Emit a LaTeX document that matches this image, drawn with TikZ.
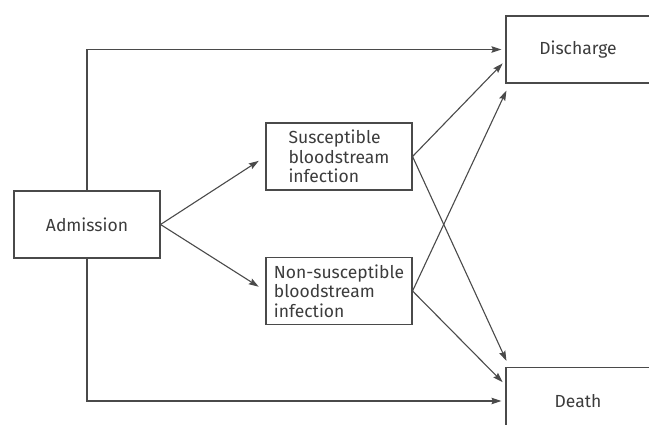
\documentclass[tikz,border=0pt]{standalone}
\usepackage{fontspec}
\setmainfont{Fira Sans}
\usetikzlibrary{arrows.meta}
\definecolor{linegray}{HTML}{4A4A4A}
\definecolor{textgray}{HTML}{3C3C3C}
\begin{document}
\begin{tikzpicture}[x=1pt, y=-1pt, line width=1.1pt, draw=linegray,
  font=\fontsize{17.5}{19.5}\selectfont, text=textgray,
  box/.style={draw=linegray, minimum width=146pt, minimum height=67pt, align=left, inner sep=0pt},
  arr/.style={draw=linegray, -{Stealth[length=10pt, width=6.5pt, inset=1.5pt]}}]
  \useasboundingbox (0,0) rectangle (649,425);
  \clip (0,0) rectangle (649,425);
  \node[box] (adm)   at (87,224.5)  {Admission};
  \node[box] (susc)  at (339,156.5) {Susceptible\\bloodstream\\infection};
  \node[box] (nsusc) at (339,291)   {Non-susceptible\\bloodstream\\infection};
  \node[box, minimum width=144pt] (dis)   at (578,49.5) {Discharge};
  \node[box, minimum width=144pt] (death) at (578,401)  {Death};
  % direct transitions
  \draw[arr, shorten >=4pt] (adm.north) |- (dis.west);
  \draw[arr, shorten >=4pt] (adm.south) |- (death.west);
  % to infection
  \draw[arr, shorten >=8pt] (adm.east) -- (susc.west);
  \draw[arr, shorten >=8pt] (adm.east) -- (nsusc.west);
  % from infection
  \draw[arr, shorten >=4pt] (susc.east) -- ([yshift=-11pt]dis.west);
  \draw[arr] (susc.east) -- ([xshift=1pt, yshift=6pt]death.north west);
  \draw[arr] (nsusc.east) -- ([xshift=1pt, yshift=-7pt]dis.south west);
  \draw[arr, shorten >=4pt] (nsusc.east) -- ([yshift=16pt]death.west);
\end{tikzpicture}
\end{document}
